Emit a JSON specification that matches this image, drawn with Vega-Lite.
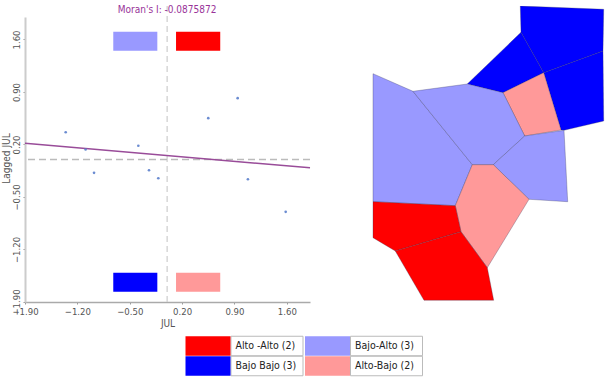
{
"$schema":"https://vega.github.io/schema/vega-lite/v6.json",
"padding":{"left":1,"top":4,"right":0,"bottom":0},
"background":"white",
"spacing":6,
"config":{"view":{"stroke":null},"font":"DejaVu Sans Condensed"},
"vconcat":[
{"hconcat":[
{"width":285,"height":296,
"layer":[
{"data":{"values":[{"c":"Bajo-Alto","x0":-0.72,"x1":-0.131,"y0":1.451,"y1":1.705},{"c":"Alto-Alto","x0":0.119,"x1":0.71,"y0":1.451,"y1":1.705},{"c":"Bajo-Bajo","x0":-0.72,"x1":-0.131,"y0":-1.762,"y1":-1.509},{"c":"Alto-Bajo","x0":0.119,"x1":0.71,"y0":-1.762,"y1":-1.509}]},
"mark":{"type":"rect"},
"encoding":{
"x":{"field":"x0","type":"quantitative","scale":{"domain":[-1.9,1.91],"nice":false,"zero":false},
"axis":{"values":[-1.9,-1.2,-0.5,0.2,0.9,1.6],"format":".2f","title":"JUL","grid":false,"domainColor":"#aaaaaa","domainWidth":1.5,"tickColor":"#999999","tickSize":2,"labelColor":"#555555","labelFontSize":9.5,"labelPadding":2,"titleColor":"#555555","titleFontSize":10,"titleFontWeight":"normal","titlePadding":3,"labelOverlap":false,"labelFlush":false}},
"x2":{"field":"x1"},
"y":{"field":"y0","type":"quantitative","scale":{"domain":[-1.9,1.9],"nice":false,"zero":false,"range":[296,11]},
"axis":{"values":[-1.9,-1.2,-0.5,0.2,0.9,1.6],"format":".2f","title":"Lagged JUL","titleY":152,"grid":false,"domainColor":"#cccccc","domainWidth":2,"tickColor":"#999999","tickSize":2,"labelColor":"#555555","labelFontSize":9.5,"labelAngle":-90,"labelAlign":"center","labelBaseline":"bottom","labelPadding":2,"titleColor":"#555555","titleFontSize":10,"titleFontWeight":"normal","titlePadding":0,"labelOverlap":false,"labelFlush":false}},
"y2":{"field":"y1"},
"color":{"field":"c","type":"nominal","legend":null,"scale":{"domain":["Alto-Alto","Bajo-Alto","Bajo-Bajo","Alto-Bajo"],"range":["#ff0000","#9999ff","#0000ff","#ff9999"]}}
}},
{"data":{"values":[{}]},"mark":{"type":"rule","color":"#cccccc","strokeDash":[6,4],"strokeWidth":1.2},"encoding":{"x":{"datum":0,"type":"quantitative"}}},
{"data":{"values":[{}]},"mark":{"type":"rule","color":"#bbbbbb","strokeDash":[7,4],"strokeWidth":1.5},"encoding":{"y":{"datum":0,"type":"quantitative"}}},
{"data":{"values":[{"JUL":-1.9,"L":0.218},{"JUL":1.91,"L":-0.111}]},
"mark":{"type":"line","color":"#994c99","strokeWidth":1.5},
"encoding":{"x":{"field":"JUL","type":"quantitative"},"y":{"field":"L","type":"quantitative"}}},
{"data":{"values":[{"JUL":-1.356,"L":0.364},{"JUL":-1.09,"L":0.134},{"JUL":-0.977,"L":-0.178},{"JUL":-0.385,"L":0.183},{"JUL":-0.242,"L":-0.143},{"JUL":-0.118,"L":-0.25},{"JUL":0.55,"L":0.551},{"JUL":0.943,"L":0.818},{"JUL":1.08,"L":-0.263},{"JUL":1.585,"L":-0.698}]},
"mark":{"type":"point","filled":true,"color":"#5b80cc","size":7,"opacity":0.9},
"encoding":{"x":{"field":"JUL","type":"quantitative"},"y":{"field":"L","type":"quantitative"}}},
{"data":{"values":[{"t":"Moran's I: -0.0875872","x":0,"y":2.0}]},
"mark":{"type":"text","color":"#993399","fontSize":10,"baseline":"middle","font":"DejaVu Sans Condensed"},
"encoding":{"x":{"field":"x","type":"quantitative"},"y":{"field":"y","type":"quantitative"},"text":{"field":"t","type":"nominal"}}}
]},
{"width":285,"height":296,
"data":{"values":{"type":"FeatureCollection","features":[
{"type":"Feature","properties":{"c":"Bajo-Bajo"},"geometry":{"type":"Polygon","coordinates":[[[520.3,6],[603.7,9.3],[603,51],[543.7,72.7],[521,32.3],[520.3,6]]]}},
{"type":"Feature","properties":{"c":"Bajo-Bajo"},"geometry":{"type":"Polygon","coordinates":[[[543.7,72.7],[603,51],[603.7,121],[564,130.3],[561,130],[543.7,72.7]]]}},
{"type":"Feature","properties":{"c":"Bajo-Bajo"},"geometry":{"type":"Polygon","coordinates":[[[521,32.3],[543.7,72.7],[503,92.7],[467.3,84],[521,32.3]]]}},
{"type":"Feature","properties":{"c":"Alto-Bajo"},"geometry":{"type":"Polygon","coordinates":[[[503,92.7],[543.7,72.7],[561,130],[524.7,136],[503,92.7]]]}},
{"type":"Feature","properties":{"c":"Bajo-Alto"},"geometry":{"type":"Polygon","coordinates":[[[373,73.7],[413,91.3],[472.3,164.7],[455.3,205.7],[373,201.7],[373,73.7]]]}},
{"type":"Feature","properties":{"c":"Bajo-Alto"},"geometry":{"type":"Polygon","coordinates":[[[413,91.3],[467.3,84],[503,92.7],[524.7,136],[493.3,164.7],[472.3,164.7],[413,91.3]]]}},
{"type":"Feature","properties":{"c":"Bajo-Alto"},"geometry":{"type":"Polygon","coordinates":[[[524.7,136],[564,130.3],[567.7,201.7],[529,199.3],[493.3,164.7],[524.7,136]]]}},
{"type":"Feature","properties":{"c":"Alto-Bajo"},"geometry":{"type":"Polygon","coordinates":[[[472.3,164.7],[493.3,164.7],[529,199.3],[487.3,267.7],[461,231.7],[455.3,205.7],[472.3,164.7]]]}},
{"type":"Feature","properties":{"c":"Alto-Alto"},"geometry":{"type":"Polygon","coordinates":[[[373,201.7],[455.3,205.7],[461,231.7],[395.3,251],[373,237.7],[373,201.7]]]}},
{"type":"Feature","properties":{"c":"Alto-Alto"},"geometry":{"type":"Polygon","coordinates":[[[395.3,251],[461,231.7],[487.3,267.7],[493.7,300.3],[424,300.3],[395.3,251]]]}}
]},"format":{"type":"json","property":"features"}},
"projection":{"type":"identity","scale":1,"translate":[-323,-6]},
"mark":{"type":"geoshape","stroke":"#333355","strokeWidth":0.5,"strokeOpacity":0.6},
"encoding":{"color":{"field":"properties.c","type":"nominal","legend":null,"scale":{"domain":["Alto-Alto","Bajo-Alto","Bajo-Bajo","Alto-Bajo"],"range":["#ff0000","#9999ff","#0000ff","#ff9999"]}}}
}
],"spacing":10},
{"width":396,"height":40,
"data":{"values":[
{"c":"Alto-Alto","t":"Alto -Alto (2)","col":"A","fila":"1"},
{"c":"Bajo-Alto","t":"Bajo-Alto (3)","col":"B","fila":"1"},
{"c":"Bajo-Bajo","t":"Bajo Bajo (3)","col":"A","fila":"2"},
{"c":"Alto-Bajo","t":"Alto-Bajo (2)","col":"B","fila":"2"}
]},
"encoding":{
"x":{"field":"col","type":"nominal","axis":null,"scale":{"type":"point","padding":0,"range":[183,302.5]}},
"y":{"field":"fila","type":"nominal","axis":null,"scale":{"type":"point","padding":0,"range":[10,30]}}
},
"layer":[
{"mark":{"type":"rect","width":72,"height":19.5,"xOffset":59,"fill":"white","stroke":"#bbbbbb","strokeWidth":1}},
{"mark":{"type":"rect","width":45,"height":19.5},
"encoding":{"color":{"field":"c","type":"nominal","legend":null,"scale":{"domain":["Alto-Alto","Bajo-Alto","Bajo-Bajo","Alto-Bajo"],"range":["#ff0000","#9999ff","#0000ff","#ff9999"]}}}},
{"mark":{"type":"text","align":"left","dx":27.5,"fontSize":10.5,"color":"#222222","font":"DejaVu Sans Condensed"},
"encoding":{"text":{"field":"t","type":"nominal"}}}
]}
]}
